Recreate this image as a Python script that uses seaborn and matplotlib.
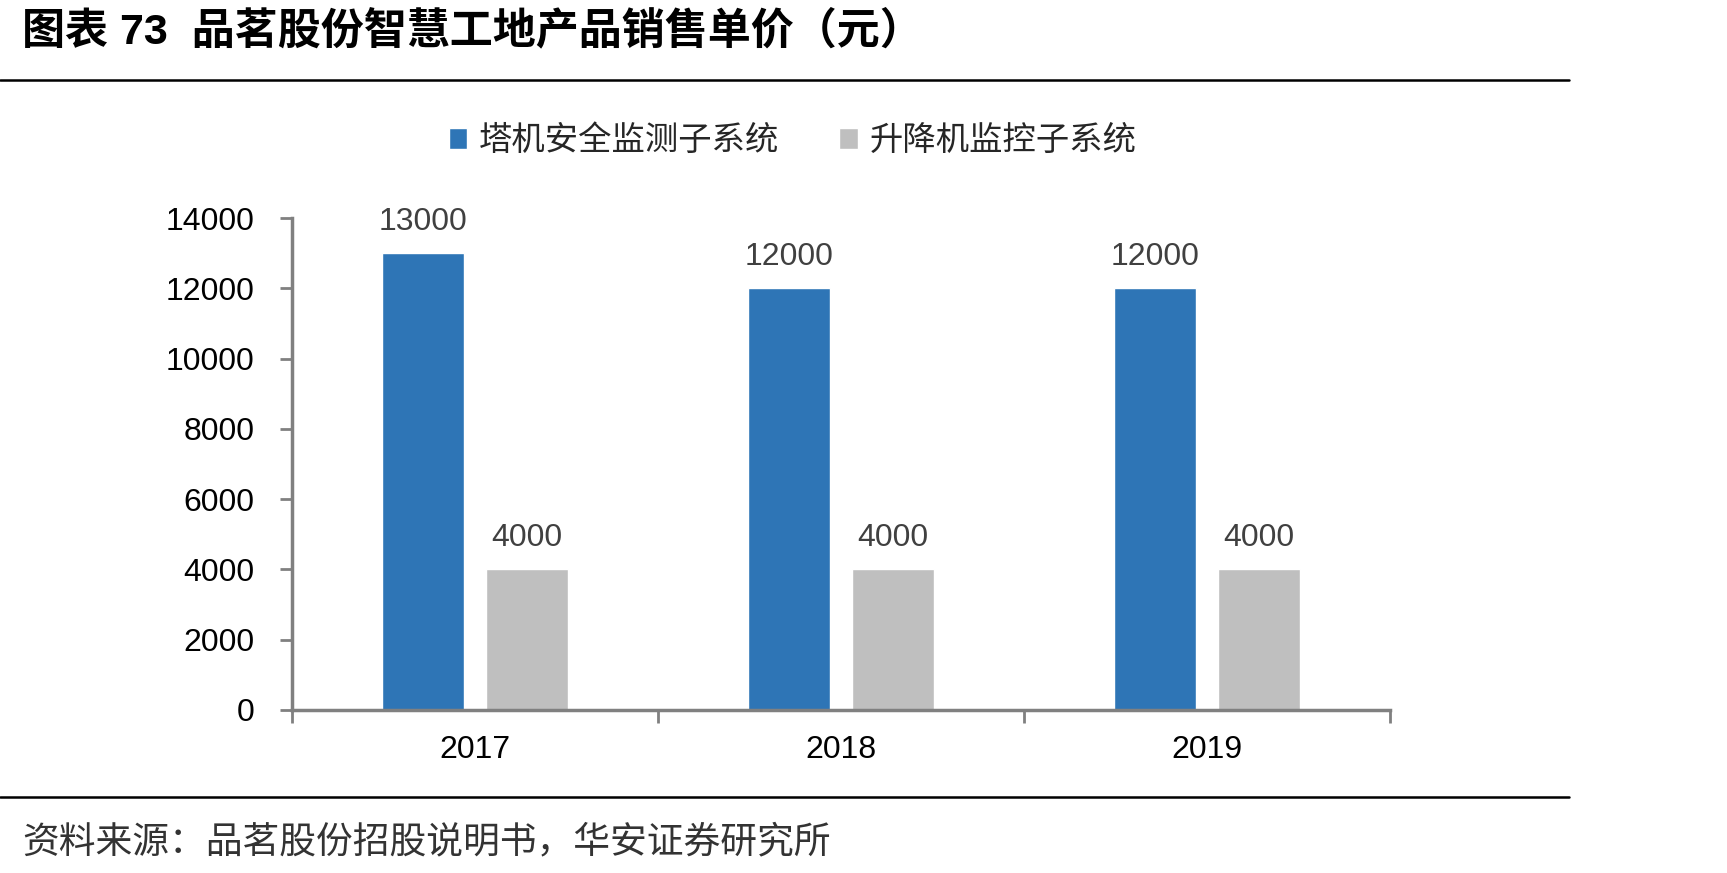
import pandas as pd
import numpy as np
import matplotlib
matplotlib.use("Agg")
import matplotlib.pyplot as plt
from matplotlib.lines import Line2D
import seaborn as sns

# Datos del gráfico
anios = ["2017", "2018", "2019"]
series = ["塔机安全监测子系统", "升降机监控子系统"]
torre = [13000, 12000, 12000]
elevador = [4000, 4000, 4000]
colores = ["#2E75B6", "#BFBFBF"]
yticks = [0, 2000, 4000, 6000, 8000, 10000, 12000, 14000]

titulo = "图表 73  品茗股份智慧工地产品销售单价（元）"
fuente = "资料来源：品茗股份招股说明书，华安证券研究所"

df = pd.DataFrame({
    "anio": anios * 2,
    "serie": [series[0]] * 3 + [series[1]] * 3,
    "valor": torre + elevador,
})

sns.set_theme(style="white")
plt.rcParams['font.family'] = ['Liberation Sans', 'Noto Sans CJK SC']

fig = plt.figure(figsize=(17.27, 8.73), dpi=100)
ax = fig.add_axes([0.169, 0.187, 0.636, 0.563])

sns.barplot(data=df, x="anio", y="valor", hue="serie", palette=colores,
            width=0.566, gap=0.21, saturation=1, ax=ax, legend=True)

# Etiquetas de datos
for cont in ax.containers:
    ax.bar_label(cont, fmt="%d", padding=12, fontsize=23, color="#404040")

ax.set_xlim(-0.5, 2.5)
ax.set_ylim(0, 14000)
ax.set_yticks(yticks)
ax.set_xlabel("")
ax.set_ylabel("")
ax.tick_params(axis="y", labelsize=23, length=9, width=2, color="#808080",
               left=True, pad=18, labelcolor="black")
ax.tick_params(axis="x", which="major", labelsize=23, length=0, pad=18,
               labelcolor="black")
ax.set_xticks([-0.5, 0.5, 1.5, 2.5], minor=True)
ax.tick_params(axis="x", which="minor", length=9, width=2, color="#808080",
               bottom=True)

for lado in ["top", "right"]:
    ax.spines[lado].set_visible(False)
for lado in ["left", "bottom"]:
    ax.spines[lado].set_color("#808080")
    ax.spines[lado].set_linewidth(2.5)

# Leyenda
handles, labels = ax.get_legend_handles_labels()
ax.get_legend().remove()
fig.legend(handles, labels, loc="center", bbox_to_anchor=(0.459, 0.838),
           ncol=2, frameon=False, fontsize=24, handlelength=0.55,
           handleheight=0.55, handletextpad=0.35, columnspacing=1.8)

# Título, líneas y fuente
fig.text(0.013, 0.964, titulo, fontsize=31, fontweight="bold",
         va="center", ha="left", color="black")
fig.add_artist(Line2D([0, 0.9085], [0.908, 0.908], color="black", lw=1.8,
                      transform=fig.transFigure))
fig.add_artist(Line2D([0, 0.9085], [0.087, 0.087], color="black", lw=1.8,
                      transform=fig.transFigure))
fig.text(0.013, 0.034, fuente, fontsize=26.5, va="center", ha="left",
         color="#333333")

fig.savefig("out.png", dpi=100)
